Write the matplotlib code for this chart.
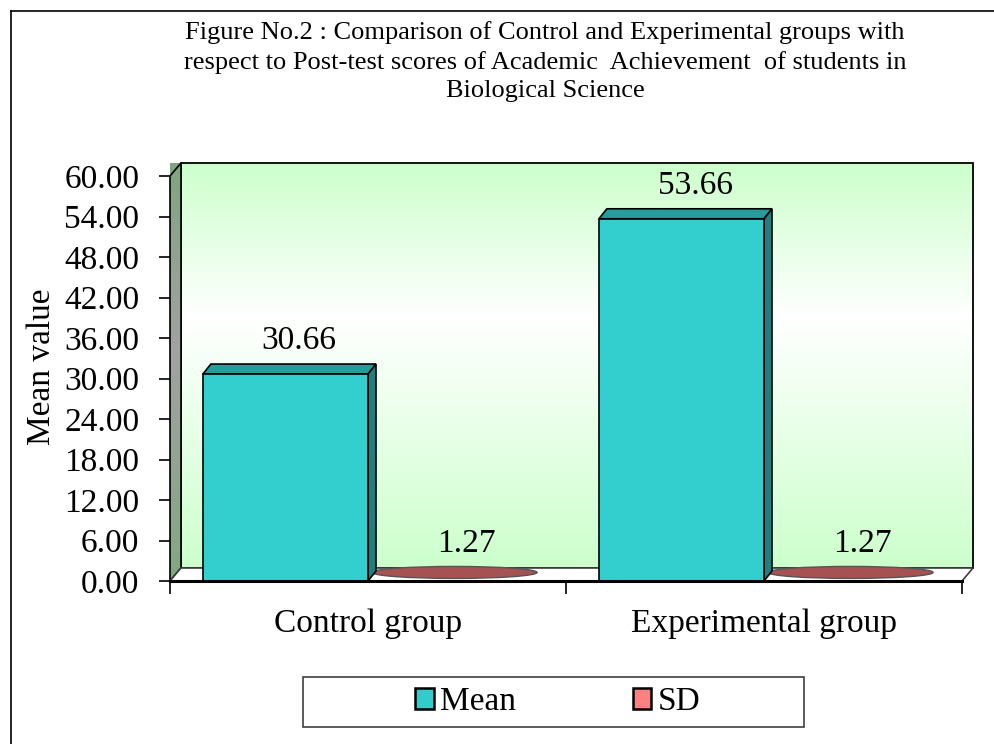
import numpy as np
import matplotlib
matplotlib.use("Agg")
import matplotlib.pyplot as plt
from matplotlib.patches import Polygon, Rectangle, Ellipse, Patch
from matplotlib.colors import LinearSegmentedColormap
from matplotlib.lines import Line2D

# === Data ===
groups = ["Control group", "Experimental group"]
mean_vals = [30.66, 53.66]
sd_vals = [1.27, 1.27]
y_ticks = np.arange(0, 61, 6)
series_names = ["Mean", "SD"]

title = ("Figure No.2 : Comparison of Control and Experimental groups with\n"
         "respect to Post-test scores of Academic  Achievement  of students in\n"
         "Biological Science")

plt.rcParams['font.family'] = ['Liberation Serif', 'DejaVu Serif']

W, H = 995, 744
fig = plt.figure(figsize=(W / 100, H / 100), dpi=100)

# front plane of the 3D box
ax = fig.add_axes([170 / W, (H - 581) / H, 792 / W, 405 / H])
xmax, ymax = len(groups), 60
dx, dy = 11 / 396, 13 / 6.75       # depth of walls in data units
bdx, bdy = 8 / 396, 10 / 6.75      # depth of bars

# back wall, green -> white -> green
wall_cmap = LinearSegmentedColormap.from_list(
    "wall", [(0, "#ccffcc"), (0.62, "#ffffff"), (1, "#ccffcc")])
grad = np.linspace(0, 1, 256).reshape(-1, 1)
ax.imshow(grad, cmap=wall_cmap, origin="lower", aspect="auto",
          extent=[dx, xmax + dx, dy, ymax + dy], clip_on=False, zorder=0)
ax.add_patch(Rectangle((dx, dy), xmax, ymax, fill=False, ec="black",
                       lw=1.3, clip_on=False, zorder=1))

# left wall, grey-green gradient
side_cmap = LinearSegmentedColormap.from_list(
    "side", [(0, "#80a880"), (0.55, "#a2a2a2"), (1, "#7fa57f")])
left_wall = Polygon([(0, 0), (dx, dy), (dx, ymax + dy), (0, ymax)],
                    closed=True, fc="none", ec="black", lw=1.2,
                    clip_on=False, zorder=2)
im = ax.imshow(grad, cmap=side_cmap, origin="lower", aspect="auto",
               extent=[0, dx, 0, ymax + dy], clip_on=False, zorder=1.5)
ax.add_patch(left_wall)
im.set_clip_path(left_wall)

# floor
ax.add_patch(Polygon([(0, 0), (xmax, 0), (xmax + dx, dy), (dx, dy)],
                     closed=True, fc="white", ec="#404040", lw=1.2,
                     clip_on=False, zorder=2))
ax.plot([0, xmax], [0, 0], color="black", lw=2.2, clip_on=False, zorder=6)

# bars
bw = 0.417
for i, (m, s) in enumerate(zip(mean_vals, sd_vals)):
    x0 = i + 0.083
    x1 = x0 + bw
    ax.add_patch(Polygon([(x0, m), (x1, m), (x1 + bdx, m + bdy), (x0 + bdx, m + bdy)],
                         closed=True, fc="#269c9c", ec="black", lw=1.2, zorder=4))
    ax.add_patch(Polygon([(x1, 0), (x1 + bdx, bdy), (x1 + bdx, m + bdy), (x1, m)],
                         closed=True, fc="#1f7f7f", ec="black", lw=1.2, zorder=4))
    ax.add_patch(Rectangle((x0, 0), bw, m, fc="#33cfcf", ec="black",
                           lw=1.2, zorder=5))
    ax.text((x0 + x1) / 2 + 0.035, m + 3.7, f"{m:.2f}", ha="center",
            va="baseline", fontsize=24, zorder=7)

    # SD shown as a flat disc on the floor
    sx0 = i + 0.51
    cx = sx0 + bw / 2
    ax.add_patch(Ellipse((cx, s), bw, s * 1.4, fc="#a65252", ec="#555555",
                         lw=1.0, zorder=3, clip_on=False))
    ax.text(cx + 0.03, s + 3.0, f"{s:.2f}", ha="center", va="baseline",
            fontsize=24, zorder=7)

ax.set_xlim(0, xmax)
ax.set_ylim(0, ymax)
for sp in ax.spines.values():
    sp.set_visible(False)
ax.patch.set_visible(False)

ax.set_yticks(y_ticks)
ax.set_yticklabels([f"{v:.2f}" for v in y_ticks])
ax.tick_params(axis="y", length=8, width=1.2, pad=14, labelsize=24)

ax.set_xticks(np.arange(0, xmax + 1))
ax.set_xticklabels([])
ax.set_xticks(np.arange(len(groups)) + 0.5, minor=True)
ax.set_xticklabels(groups, minor=True)
ax.tick_params(axis="x", which="major", length=9, width=1.2)
ax.tick_params(axis="x", which="minor", length=0, pad=20, labelsize=24)

fig.text(42 / W, 1 - 367 / H, "Mean value", rotation=90, ha="center",
         va="center", fontsize=24)
fig.text(545 / W, 1 - 21 / H, title, ha="center", va="top",
         fontsize=19, linespacing=1.38)

# legend box
fig.add_artist(Rectangle((303 / W, 1 - 727 / H), 501 / W, 50 / H,
                         transform=fig.transFigure, fill=False,
                         ec="#404040", lw=1.2))
handles = [Patch(fc="#33cccc", ec="black", lw=1.8),
           Patch(fc="#ff8080", ec="black", lw=1.8)]
fig.legend(handles, series_names, loc="center",
           bbox_to_anchor=(558 / W, 1 - 702 / H), ncol=2, frameon=False,
           fontsize=24, handlelength=0.55, handleheight=0.55,
           handletextpad=0.2, columnspacing=3.5)

# outer frame
fig.add_artist(Line2D([11 / W, 11 / W], [0, 1 - 11 / H], color="black", lw=1.2))
fig.add_artist(Line2D([11 / W, 1], [1 - 11 / H, 1 - 11 / H], color="black", lw=1.2))

fig.savefig("out.png", dpi=100)
